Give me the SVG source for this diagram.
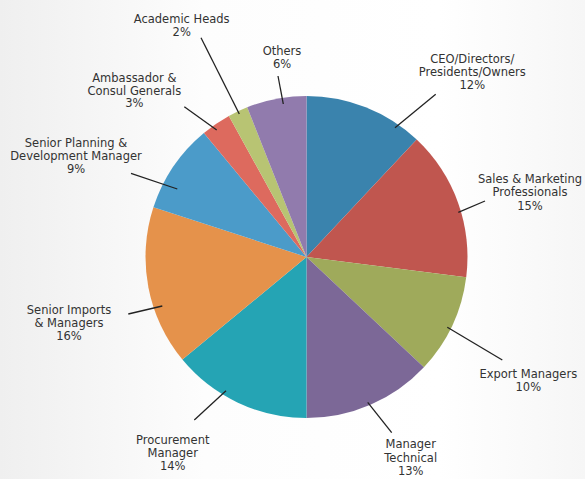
<svg xmlns="http://www.w3.org/2000/svg" width="585" height="479" viewBox="0 0 585 479">
<defs>
<linearGradient id="bg" x1="0" y1="0" x2="1" y2="0">
<stop offset="0" stop-color="#efefef"/>
<stop offset="0.35" stop-color="#fdfdfd"/>
<stop offset="0.75" stop-color="#ffffff"/>
<stop offset="1" stop-color="#f6f6f6"/>
</linearGradient>
<style>
.lbl{font-family:"DejaVu Sans",sans-serif;font-size:11.5px;fill:#333333;text-anchor:middle}
.lead{stroke:#222222;stroke-width:1.3;fill:none}
.sl{stroke:none}
</style>
</defs>
<rect width="585" height="479" fill="url(#bg)"/>
<g id="pie">
<g id="ceo"><path class="sl" fill="#3a83ad" d="M306.5,257 L306.5,96 A161,161 0 0 1 416.7,139.6 Z"/></g>
<g id="sales"><path class="sl" fill="#c0564f" d="M306.5,257 L416.7,139.6 A161,161 0 0 1 466.2,277.2 Z"/></g>
<g id="export"><path class="sl" fill="#9faa5b" d="M306.5,257 L466.2,277.2 A161,161 0 0 1 423.9,367.2 Z"/></g>
<g id="technical"><path class="sl" fill="#7c6897" d="M306.5,257 L423.9,367.2 A161,161 0 0 1 306.5,418 Z"/></g>
<g id="procurement"><path class="sl" fill="#25a4b4" d="M306.5,257 L306.5,418 A161,161 0 0 1 182.4,359.6 Z"/></g>
<g id="imports"><path class="sl" fill="#e5924b" d="M306.5,257 L182.4,359.6 A161,161 0 0 1 153.4,207.3 Z"/></g>
<g id="planning"><path class="sl" fill="#4b9bc9" d="M306.5,257 L153.4,207.3 A161,161 0 0 1 203.9,132.9 Z"/></g>
<g id="ambassador"><path class="sl" fill="#dd6a5e" d="M306.5,257 L203.9,132.9 A161,161 0 0 1 228.9,115.9 Z"/></g>
<g id="academic"><path class="sl" fill="#b8c473" d="M306.5,257 L228.9,115.9 A161,161 0 0 1 247.2,107.3 Z"/></g>
<g id="others"><path class="sl" fill="#917bad" d="M306.5,257 L247.2,107.3 A161,161 0 0 1 306.5,96 Z"/></g>
</g>
<g id="connectors">
<line class="lead" x1="435.7" y1="94.3" x2="395" y2="127.7"/>
<line class="lead" x1="485" y1="201" x2="458.3" y2="212.3"/>
<line class="lead" x1="502.3" y1="360" x2="447.3" y2="327.3"/>
<line class="lead" x1="391.7" y1="432.7" x2="367.7" y2="402.3"/>
<line class="lead" x1="194.3" y1="420" x2="226" y2="390.7"/>
<line class="lead" x1="128.3" y1="314" x2="162.3" y2="306"/>
<line class="lead" x1="131" y1="173.3" x2="177.3" y2="189"/>
<line class="lead" x1="184.3" y1="106.7" x2="216.7" y2="130"/>
<line class="lead" x1="201" y1="37.7" x2="239.3" y2="114"/>
<line class="lead" x1="278" y1="76" x2="283.3" y2="104"/>
</g>
<g id="labels">
<g id="lbl-ceo"><text class="lbl" x="472.3" y="63.3">CEO/Directors/</text><text class="lbl" x="472.3" y="76.3">Presidents/Owners</text><text class="lbl" x="472.3" y="89.3">12%</text></g>
<g id="lbl-sales"><text class="lbl" x="530" y="183.3">Sales &amp; Marketing</text><text class="lbl" x="530" y="196.3">Professionals</text><text class="lbl" x="530" y="210">15%</text></g>
<g id="lbl-export"><text class="lbl" x="528.3" y="378.3">Export Managers</text><text class="lbl" x="528.3" y="391">10%</text></g>
<g id="lbl-technical"><text class="lbl" x="410.7" y="448.3">Manager</text><text class="lbl" x="410.7" y="461.7">Technical</text><text class="lbl" x="410.7" y="475">13%</text></g>
<g id="lbl-procurement"><text class="lbl" x="172.7" y="444">Procurement</text><text class="lbl" x="172.7" y="456.7">Manager</text><text class="lbl" x="172.7" y="470">14%</text></g>
<g id="lbl-imports"><text class="lbl" x="69" y="314">Senior Imports</text><text class="lbl" x="69" y="327.3">&amp; Managers</text><text class="lbl" x="69" y="340.3">16%</text></g>
<g id="lbl-planning"><text class="lbl" x="76" y="146.7">Senior Planning &amp;</text><text class="lbl" x="76" y="159.7">Development Manager</text><text class="lbl" x="76" y="172.7">9%</text></g>
<g id="lbl-ambassador"><text class="lbl" x="134.3" y="81.7">Ambassador &amp;</text><text class="lbl" x="134.3" y="94.5">Consul Generals</text><text class="lbl" x="134.3" y="107.3">3%</text></g>
<g id="lbl-academic"><text class="lbl" x="181.7" y="22.7">Academic Heads</text><text class="lbl" x="181.7" y="35.7">2%</text></g>
<g id="lbl-others"><text class="lbl" x="282" y="55">Others</text><text class="lbl" x="282" y="68">6%</text></g>
</g>
</svg>
